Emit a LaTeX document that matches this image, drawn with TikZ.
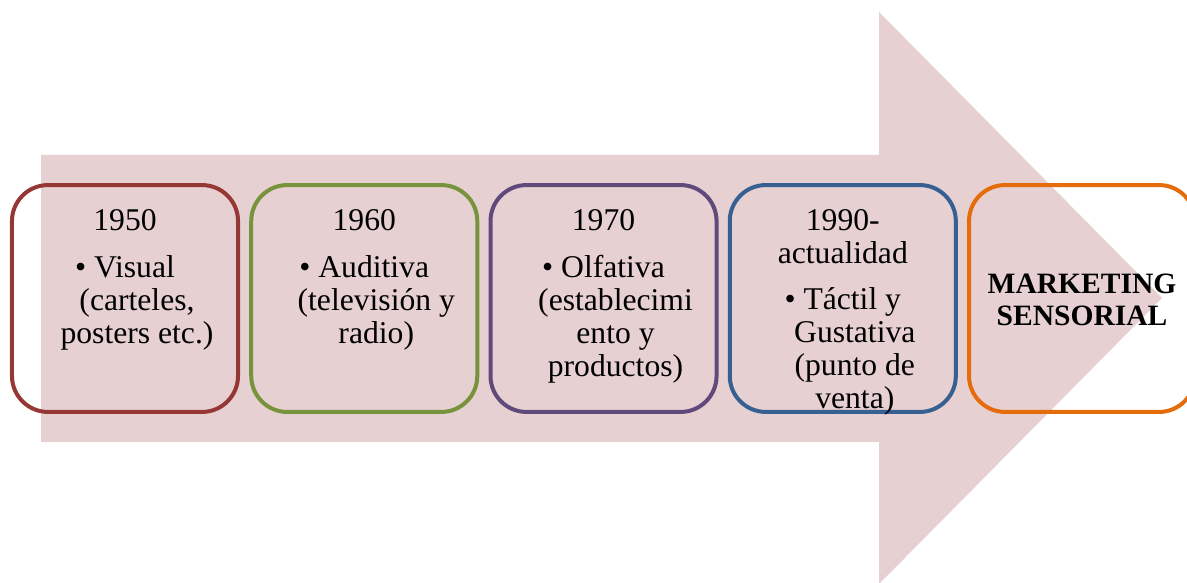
\documentclass[tikz,border=0pt]{standalone}
\usepackage{fontspec}
\setmainfont{Liberation Serif}
\usepackage{tikz}
\usetikzlibrary{positioning}
\usepackage{xcolor}

\definecolor{arrowpink}{HTML}{E7D0D1}
\definecolor{stagered}{HTML}{953735}
\definecolor{stagegreen}{HTML}{77933C}
\definecolor{stagepurple}{HTML}{604A7B}
\definecolor{stageblue}{HTML}{376092}
\definecolor{stageorange}{HTML}{E46C0A}

\newcommand{\ind}{\hspace*{0.6cm}}

\tikzset{
  stage/.style={draw=#1, line width=0.1cm, rounded corners=0.9cm,
                minimum width=5.65cm, minimum height=5.67cm},
  stagetext/.style={font=\fontsize{22.5}{23.5}\selectfont, align=center, inner sep=0}
}

\begin{document}
\begin{tikzpicture}[x=0.025cm, y=-0.025cm]

  % Frame
  \useasboundingbox (0,0) rectangle (1187,583);
  \clip (0,0) rectangle (1187,583);

  % Big arrow
  \fill[arrowpink] (41,155) -- (879,155) -- (879,12) -- (1162,298)
    -- (879,584) -- (879,442) -- (41,442) -- cycle;

  % Stages
  \node[stage=stagered] (b1) at (125,298.5) {};
  \node[stage=stagegreen, right=0.23cm of b1] (b2) {};
  \node[stage=stagepurple, right=0.23cm of b2] (b3) {};
  \node[stage=stageblue, right=0.23cm of b3] (b4) {};
  \node[stage=stageorange, right=0.23cm of b4] (b5) {};

  % Texts
  \node[stagetext, anchor=north] (t1) at ([yshift=-0.65cm]b1.north)
    {1950\\[0.35cm] \textbullet\ Visual\\ \ind(carteles,\\ \ind posters etc.)};
  \node[stagetext, anchor=north] (t2) at ([yshift=-0.65cm]b2.north)
    {1960\\[0.35cm] \textbullet\ Auditiva\\ \ind(televisión y\\ \ind radio)};
  \node[stagetext, anchor=north] (t3) at ([yshift=-0.65cm]b3.north)
    {1970\\[0.35cm] \textbullet\ Olfativa\\ \ind(establecimi\\ \ind ento y\\ \ind productos)};
  \node[stagetext, anchor=north] (t4) at ([yshift=-0.65cm]b4.north)
    {1990-\\ actualidad\\[0.33cm] \textbullet\ Táctil y\\ \ind Gustativa\\ \ind(punto de\\ \ind venta)};
  \node[stagetext, font=\fontsize{21}{22.8}\selectfont\bfseries] (t5) at ([yshift=-0.025cm]b5.center)
    {MARKETING\\ SENSORIAL};

\end{tikzpicture}
\end{document}
